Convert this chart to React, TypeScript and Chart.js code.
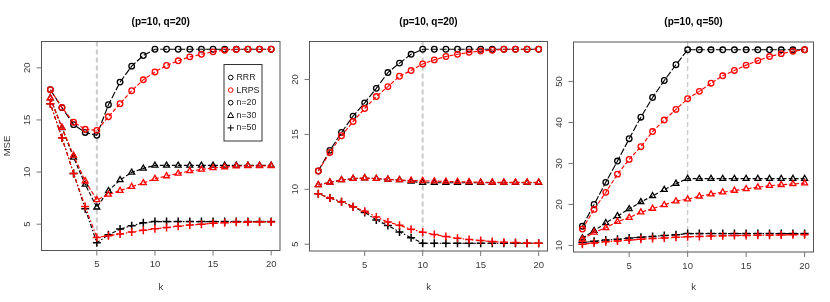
import React, { useEffect, useRef } from "react";
import { Chart, registerables } from "chart.js";
Chart.register(...registerables);

const K = [1, 2, 3, 4, 5, 6, 7, 8, 9, 10, 11, 12, 13, 14, 15, 16, 17, 18, 19, 20];
const X_TICKS = [5, 10, 15, 20];

// Panel 1: (p=10, q=20), true rank 5
const p1Rrr20 = [17.9, 16.18, 14.55, 13.8, 13.53, 16.46, 18.63, 20.16, 21.18, 21.78, 21.78, 21.78, 21.78, 21.78, 21.78, 21.78, 21.78, 21.78, 21.78, 21.78];
const p1Lrps20 = [17.9, 16.2, 14.78, 14.1, 14.0, 15.3, 16.56, 17.8, 18.85, 19.6, 20.22, 20.67, 21.05, 21.3, 21.53, 21.69, 21.75, 21.78, 21.78, 21.78];
const p1Rrr30 = [17.1, 14.24, 11.4, 8.82, 6.62, 8.2, 9.24, 9.97, 10.35, 10.64, 10.64, 10.64, 10.64, 10.64, 10.64, 10.64, 10.64, 10.64, 10.64, 10.64];
const p1Lrps30 = [17.1, 14.27, 11.6, 9.14, 7.33, 7.85, 8.22, 8.6, 8.95, 9.36, 9.62, 9.87, 10.1, 10.25, 10.4, 10.48, 10.57, 10.6, 10.6, 10.6];
const p1Rrr50 = [16.56, 13.28, 9.87, 6.47, 3.22, 3.98, 4.53, 4.86, 5.13, 5.25, 5.25, 5.25, 5.25, 5.25, 5.25, 5.25, 5.25, 5.25, 5.25, 5.25];
const p1Lrps50 = [16.56, 13.28, 9.87, 6.7, 3.73, 3.9, 4.05, 4.25, 4.42, 4.56, 4.68, 4.8, 4.92, 5.0, 5.08, 5.14, 5.18, 5.2, 5.22, 5.22];
const p1YTicks = [5, 10, 15, 20];

// Panel 2: (p=10, q=20), true rank 10
const p2Rrr20 = [11.67, 13.55, 15.18, 16.67, 17.88, 19.2, 20.64, 21.5, 22.3, 22.76, 22.76, 22.76, 22.76, 22.76, 22.76, 22.76, 22.76, 22.76, 22.76, 22.76];
const p2Lrps20 = [11.67, 13.36, 14.88, 16.18, 17.36, 18.45, 19.36, 20.3, 20.82, 21.42, 21.79, 22.1, 22.3, 22.48, 22.6, 22.67, 22.76, 22.76, 22.76, 22.76];
const p2Rrr30 = [10.4, 10.64, 10.85, 10.97, 11.03, 10.97, 10.9, 10.85, 10.73, 10.6, 10.6, 10.6, 10.6, 10.6, 10.6, 10.6, 10.6, 10.6, 10.6, 10.6];
const p2Lrps30 = [10.4, 10.64, 10.85, 10.97, 11.03, 10.97, 10.9, 10.85, 10.8, 10.78, 10.75, 10.72, 10.7, 10.68, 10.65, 10.64, 10.64, 10.64, 10.64, 10.64];
const p2Rrr50 = [9.6, 9.2, 8.88, 8.42, 7.9, 7.2, 6.7, 6.12, 5.6, 5.09, 5.09, 5.09, 5.09, 5.09, 5.09, 5.09, 5.09, 5.09, 5.09, 5.09];
const p2Lrps50 = [9.6, 9.2, 8.88, 8.42, 8.0, 7.48, 7.03, 6.73, 6.36, 6.1, 5.88, 5.7, 5.55, 5.42, 5.33, 5.24, 5.18, 5.15, 5.1, 5.1];
const p2YTicks = [5, 10, 15, 20];

// Panel 3: (p=10, q=50), true rank 10
const p3Rrr20 = [14.7, 20.0, 25.4, 30.6, 36.05, 41.3, 46.1, 50.25, 54.1, 57.75, 57.75, 57.75, 57.75, 57.75, 57.75, 57.75, 57.75, 57.75, 57.75, 57.75];
const p3Lrps20 = [14.0, 18.8, 22.96, 27.4, 31.0, 34.1, 37.8, 40.6, 43.2, 45.8, 47.6, 49.6, 51.4, 52.7, 54.0, 55.1, 56.1, 56.8, 57.4, 57.75];
const p3Rrr30 = [11.8, 13.6, 15.5, 17.2, 18.9, 20.6, 22.1, 23.6, 25.1, 26.3, 26.3, 26.3, 26.3, 26.3, 26.3, 26.3, 26.3, 26.3, 26.3, 26.3];
const p3Lrps30 = [11.5, 13.2, 14.3, 15.8, 16.8, 18.1, 19.0, 19.9, 20.8, 21.3, 22.0, 22.5, 23.0, 23.4, 23.8, 24.2, 24.6, 24.8, 25.0, 25.2];
const p3Rrr50 = [10.7, 11.0, 11.3, 11.5, 11.8, 12.0, 12.2, 12.4, 12.6, 12.9, 12.9, 12.9, 12.9, 12.9, 12.9, 12.9, 12.9, 12.9, 12.9, 12.9];
const p3Lrps50 = [10.3, 10.6, 10.9, 11.1, 11.3, 11.5, 11.7, 11.8, 12.0, 12.1, 12.2, 12.3, 12.35, 12.4, 12.45, 12.5, 12.5, 12.55, 12.6, 12.6];
const p3YTicks = [10, 20, 30, 40, 50];

const TITLES = ["(p=10, q=20)", "(p=10, q=20)", "(p=10, q=50)"];
const VLINES = [5, 10, 10];
const LEGEND_LABELS = ["RRR", "LRPS", "n=20", "n=30", "n=50"];
const X_LABEL = "k";
const Y_LABEL = "MSE";

const FONT = '"Liberation Sans", Arial, Helvetica, sans-serif';
const W = 830;
const H = 302;

type Box = { l: number; t: number; r: number; b: number };

const PANELS = [
  {
    title: TITLES[0], vline: VLINES[0], yTicks: p1YTicks, box: { l: 41.5, t: 41.5, r: 280, b: 250.5 }, vlw: 2,
    legend: true, yLabel: true,
    s: [p1Lrps20, p1Lrps30, p1Lrps50, p1Rrr20, p1Rrr30, p1Rrr50],
  },
  {
    title: TITLES[1], vline: VLINES[1], yTicks: p2YTicks, box: { l: 309.5, t: 41.5, r: 547.5, b: 251 }, vlw: 2,
    legend: false, yLabel: false,
    s: [p2Lrps20, p2Lrps30, p2Lrps50, p2Rrr20, p2Rrr30, p2Rrr50],
  },
  {
    title: TITLES[2], vline: VLINES[2], yTicks: p3YTicks, box: { l: 573.5, t: 42, r: 813.5, b: 252 }, vlw: 1.3,
    legend: false, yLabel: false,
    s: [p3Lrps20, p3Lrps30, p3Lrps50, p3Rrr20, p3Rrr30, p3Rrr50],
  },
];

const STYLES = [
  { color: "#ff0000", shape: "circle", dash: [4, 2] },
  { color: "#ff0000", shape: "triangle", dash: [4, 2] },
  { color: "#ff0000", shape: "cross", dash: [1.5, 2, 4, 2] },
  { color: "#000000", shape: "circle", dash: [7, 2] },
  { color: "#000000", shape: "triangle", dash: [4, 2] },
  { color: "#000000", shape: "cross", dash: [1.5, 2, 4, 2] },
];

function drawSymbol(ctx: CanvasRenderingContext2D, shape: string, x: number, y: number, color: string) {
  ctx.save();
  ctx.strokeStyle = color;
  ctx.lineWidth = 1;
  ctx.setLineDash([]);
  ctx.beginPath();
  if (shape === "circle") {
    ctx.arc(x, y, 2.3, 0, Math.PI * 2);
  } else if (shape === "triangle") {
    ctx.moveTo(x, y - 3);
    ctx.lineTo(x + 3, y + 2.2);
    ctx.lineTo(x - 3, y + 2.2);
    ctx.closePath();
  } else {
    ctx.moveTo(x - 3.2, y);
    ctx.lineTo(x + 3.2, y);
    ctx.moveTo(x, y - 3.2);
    ctx.lineTo(x, y + 3.2);
  }
  ctx.stroke();
  ctx.restore();
}

const rPlugin = {
  id: "rdecor",
  beforeDatasetsDraw(chart: any, _args: any, opts: any) {
    const { ctx, chartArea: a, scales } = chart;
    const px = scales.x.getPixelForValue(opts.vline);
    ctx.save();
    ctx.strokeStyle = "#cacaca";
    ctx.lineWidth = opts.vlw;
    ctx.setLineDash([5, 3]);
    ctx.beginPath();
    ctx.moveTo(px, a.top);
    ctx.lineTo(px, a.bottom);
    ctx.stroke();
    ctx.restore();
  },
  afterDatasetsDraw(chart: any, _args: any, opts: any) {
    const { ctx, chartArea: a, scales } = chart;
    ctx.save();
    ctx.setLineDash([]);
    ctx.strokeStyle = "#555";
    ctx.lineWidth = 1;
    ctx.strokeRect(a.left, a.top, a.right - a.left, a.bottom - a.top);

    ctx.strokeStyle = "#777";
    ctx.fillStyle = "#3a3a3a";
    ctx.font = `9.5px ${FONT}`;
    // y ticks
    for (const v of opts.yTicks) {
      const py = scales.y.getPixelForValue(v);
      ctx.beginPath();
      ctx.moveTo(a.left - 5, py);
      ctx.lineTo(a.left, py);
      ctx.stroke();
      ctx.save();
      ctx.translate(a.left - 14, py);
      ctx.rotate(-Math.PI / 2);
      ctx.textAlign = "center";
      ctx.textBaseline = "middle";
      ctx.fillText(String(v), 0, 0);
      ctx.restore();
    }
    // x ticks
    for (const v of X_TICKS) {
      const px = scales.x.getPixelForValue(v);
      ctx.beginPath();
      ctx.moveTo(px, a.bottom);
      ctx.lineTo(px, a.bottom + 5);
      ctx.stroke();
      ctx.textAlign = "center";
      ctx.textBaseline = "middle";
      ctx.fillText(String(v), px, a.bottom + 14);
    }
    // axis titles
    ctx.fillText(X_LABEL, (a.left + a.right) / 2, 287);
    if (opts.yLabel) {
      ctx.save();
      ctx.translate(7, (a.top + a.bottom) / 2);
      ctx.rotate(-Math.PI / 2);
      ctx.textAlign = "center";
      ctx.textBaseline = "middle";
      ctx.fillText(Y_LABEL, 0, 0);
      ctx.restore();
    }
    // title
    ctx.fillStyle = "#000";
    ctx.font = `bold 10px ${FONT}`;
    ctx.textAlign = "center";
    ctx.textBaseline = "middle";
    ctx.fillText(opts.title, (a.left + a.right) / 2, 22);

    // legend
    if (opts.legend) {
      ctx.fillStyle = "#fff";
      ctx.fillRect(224, 64.5, 38, 76.5);
      ctx.strokeStyle = "#333";
      ctx.lineWidth = 1;
      ctx.strokeRect(224, 64.5, 38, 76.5);
      const syms = [
        ["circle", "#000"],
        ["circle", "#ff0000"],
        ["circle", "#000"],
        ["triangle", "#000"],
        ["cross", "#000"],
      ];
      ctx.font = `8.8px ${FONT}`;
      ctx.textAlign = "left";
      ctx.textBaseline = "middle";
      LEGEND_LABELS.forEach((lab, i) => {
        const y = 77.5 + i * 12.6;
        drawSymbol(ctx, syms[i][0], 230.7, y, syms[i][1]);
        ctx.fillStyle = "#222";
        ctx.fillText(lab, 236.5, y);
      });
    }
    ctx.restore();
  },
};

function Panel({ p }: { p: (typeof PANELS)[number] }) {
  const ref = useRef<HTMLCanvasElement | null>(null);
  useEffect(() => {
    if (!ref.current) return;
    const all = p.s.flat();
    const lo = Math.min(...all);
    const hi = Math.max(...all);
    const pad = (hi - lo) * 0.04;
    const xPad = (K[K.length - 1] - K[0]) * 0.04;
    const box: Box = p.box;
    const datasets = p.s.map((vals, i) => {
      const st = STYLES[i];
      return {
        data: K.map((k, j) => ({ x: k, y: vals[j] })),
        borderColor: st.color,
        backgroundColor: "rgba(0,0,0,0)",
        borderWidth: 1.15,
        borderDash: st.dash,
        pointStyle: st.shape,
        pointRadius: st.shape === "circle" ? 2.8 : st.shape === "triangle" ? 3.4 : 4,
        pointBorderWidth: st.shape === "cross" ? 1.5 : 1.3,
        pointBorderColor: st.color,
        pointBackgroundColor: "rgba(0,0,0,0)",
        tension: 0,
        fill: false,
      };
    });
    const chart = new Chart(ref.current, {
      type: "line",
      data: { datasets },
      options: {
        responsive: false,
        maintainAspectRatio: false,
        devicePixelRatio: 1,
        animation: false,
        events: [],
        layout: { padding: { left: box.l, top: box.t, right: W - box.r, bottom: H - box.b } },
        scales: {
          x: { type: "linear", display: false, min: K[0] - xPad, max: K[K.length - 1] + xPad },
          y: { type: "linear", display: false, min: lo - pad, max: hi + pad },
        },
        plugins: {
          legend: { display: false },
          tooltip: { enabled: false },
          title: { display: false },
          rdecor: {
            vline: p.vline,
            vlw: p.vlw,
            yTicks: p.yTicks,
            title: p.title,
            legend: p.legend,
            yLabel: p.yLabel,
          },
        } as any,
      },
      plugins: [rPlugin as any],
    });
    return () => chart.destroy();
  }, [p]);
  return (
    <canvas
      ref={ref}
      width={W}
      height={H}
      style={{ position: "absolute", left: 0, top: 0, width: W, height: H }}
    />
  );
}

export default function App() {
  return (
    <div style={{ position: "absolute", left: 0, top: 0, width: W, height: H, background: "#fff", overflow: "hidden" }}>
      {PANELS.map((p, i) => (
        <Panel key={i} p={p} />
      ))}
    </div>
  );
}
